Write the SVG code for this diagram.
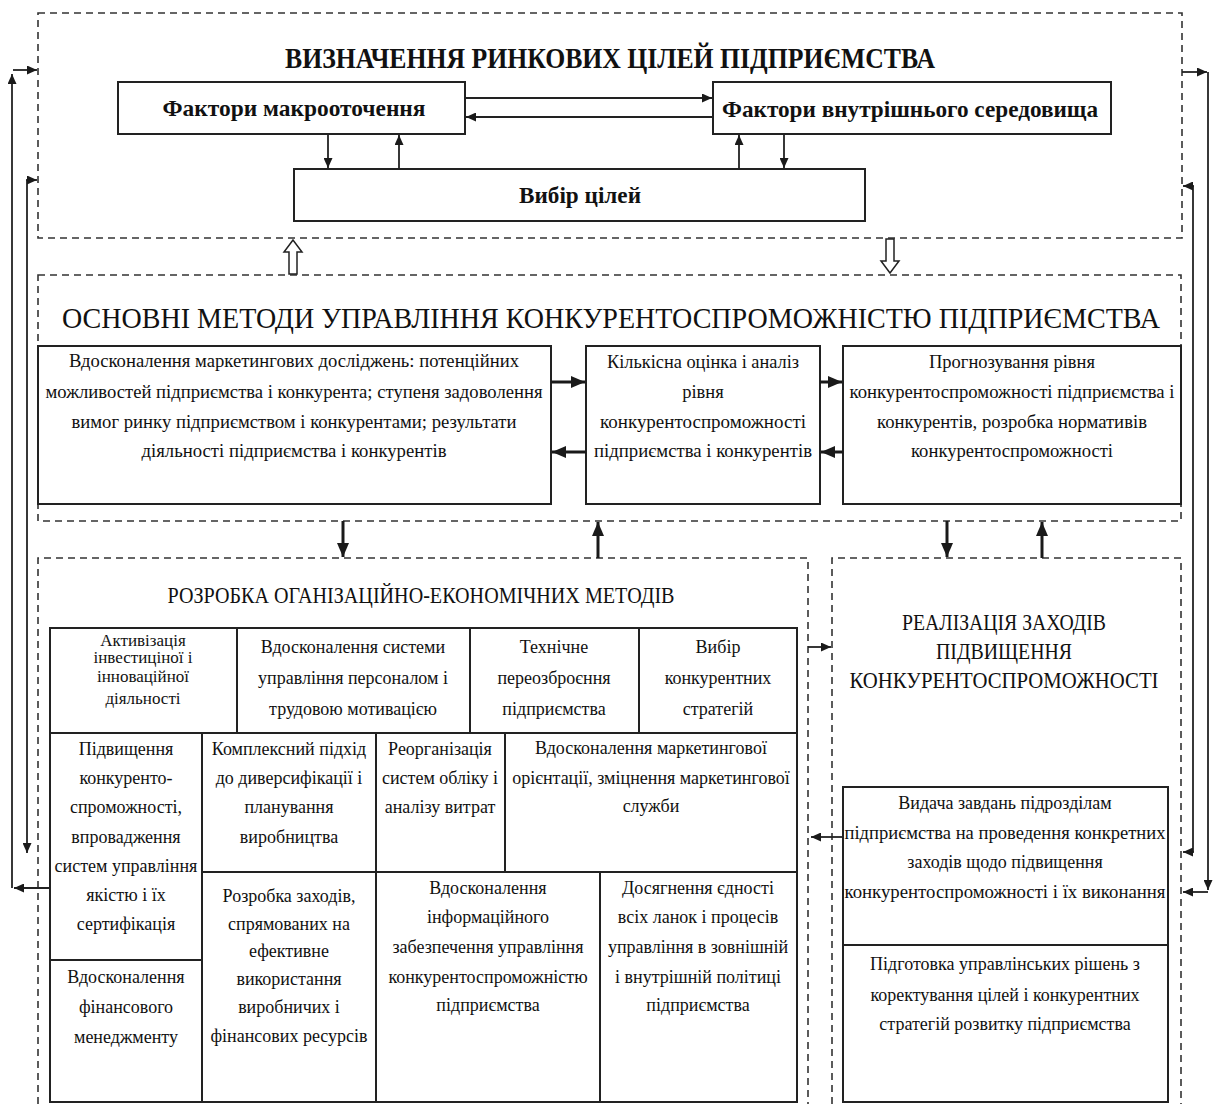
<svg xmlns="http://www.w3.org/2000/svg" width="1216" height="1104" viewBox="0 0 1216 1104">
<style>
.dash{fill:none;stroke:#333;stroke-width:1.6;stroke-dasharray:7 5}
.box{fill:#fff;stroke:#222;stroke-width:2}
.ln{fill:none;stroke:#222;stroke-width:1.8}
.lnb{fill:none;stroke:#1a1a1a;stroke-width:3}
.t{font-family:"Liberation Serif","Times New Roman",serif;fill:#111;text-anchor:middle}
.tb{font-weight:bold}
.s18{font-size:18px}
.s185{font-size:18.5px}
.s17{font-size:17px}
.hollow{fill:#fff;stroke:#222;stroke-width:1.5}
</style>
<defs>
<marker id="ah" viewBox="0 0 10 9" refX="10" refY="4.5" markerWidth="11" markerHeight="9" markerUnits="userSpaceOnUse" orient="auto"><path d="M0,0 L10,4.5 L0,9 z" fill="#1a1a1a"/></marker>
<marker id="ahb" viewBox="0 0 14 12" refX="14" refY="6" markerWidth="14" markerHeight="12" markerUnits="userSpaceOnUse" orient="auto"><path d="M0,0 L14,6 L0,12 z" fill="#1a1a1a"/></marker>
</defs>
<rect width="1216" height="1104" fill="#fff"/>

<!-- Top section -->
<g id="goals-section">
<rect class="dash" x="38" y="13" width="1144" height="225"/>
<text class="t tb" x="610" y="68" font-size="30" textLength="650" lengthAdjust="spacingAndGlyphs">ВИЗНАЧЕННЯ РИНКОВИХ ЦІЛЕЙ ПІДПРИЄМСТВА</text>
</g>
<g id="macro">
<rect class="box" x="118" y="82" width="347" height="52"/>
<text class="t tb" x="294" y="116" font-size="24" textLength="263" lengthAdjust="spacingAndGlyphs">Фактори макрооточення</text>
</g>
<g id="internal">
<rect class="box" x="713" y="82" width="398" height="52"/>
<text class="t tb" x="910" y="117" font-size="24" textLength="376" lengthAdjust="spacingAndGlyphs">Фактори внутрішнього середовища</text>
</g>
<g id="choice">
<rect class="box" x="294" y="169" width="571" height="52"/>
<text class="t tb" x="580" y="203" font-size="24" textLength="122" lengthAdjust="spacingAndGlyphs">Вибір цілей</text>
</g>

<!-- Middle section -->
<g id="methods-section">
<rect class="dash" x="38" y="275" width="1143" height="246"/>
<text class="t" x="611" y="328" font-size="29" textLength="1098" lengthAdjust="spacingAndGlyphs">ОСНОВНІ МЕТОДИ УПРАВЛІННЯ КОНКУРЕНТОСПРОМОЖНІСТЮ ПІДПРИЄМСТВА</text>
</g>
<g id="research">
<rect class="box" x="38" y="346" width="513" height="158"/>
<text class="t s185" x="294" y="367" textLength="450" lengthAdjust="spacingAndGlyphs">Вдосконалення маркетингових досліджень: потенційних</text>
<text class="t s185" x="294" y="398" textLength="497" lengthAdjust="spacingAndGlyphs">можливостей підприємства і конкурента; ступеня задоволення</text>
<text class="t s185" x="294" y="428" textLength="445" lengthAdjust="spacingAndGlyphs">вимог ринку підприємством і конкурентами; результати</text>
<text class="t s185" x="294" y="457" textLength="305" lengthAdjust="spacingAndGlyphs">діяльності підприємства і конкурентів</text>
</g>
<g id="assessment">
<rect class="box" x="586" y="346" width="234" height="158"/>
<text class="t s185" x="703" y="368" textLength="192" lengthAdjust="spacingAndGlyphs">Кількісна оцінка і аналіз</text>
<text class="t s185" x="703" y="398">рівня</text>
<text class="t s185" x="703" y="428" textLength="206" lengthAdjust="spacingAndGlyphs">конкурентоспроможності</text>
<text class="t s185" x="703" y="457" textLength="218" lengthAdjust="spacingAndGlyphs">підприємства і конкурентів</text>
</g>
<g id="forecast">
<rect class="box" x="843" y="346" width="338" height="158"/>
<text class="t s185" x="1012" y="368" textLength="166" lengthAdjust="spacingAndGlyphs">Прогнозування рівня</text>
<text class="t s185" x="1012" y="398" textLength="325" lengthAdjust="spacingAndGlyphs">конкурентоспроможності підприємства і</text>
<text class="t s185" x="1012" y="428" textLength="270" lengthAdjust="spacingAndGlyphs">конкурентів, розробка нормативів</text>
<text class="t s185" x="1012" y="457" textLength="202" lengthAdjust="spacingAndGlyphs">конкурентоспроможності</text>
</g>

<!-- Bottom-left section -->
<g id="org-methods-section">
<path class="dash" d="M38,1104 V558 H808 V1104"/>
<text class="t" x="421" y="603" font-size="24" textLength="507" lengthAdjust="spacingAndGlyphs">РОЗРОБКА ОГАНІЗАЦІЙНО-ЕКОНОМІЧНИХ МЕТОДІВ</text>
</g>
<g id="invest">
<rect class="box" x="50" y="628" width="187" height="105"/>
<text class="t s17" x="143" y="646">Активізація</text>
<text class="t s17" x="143" y="663">інвестиціної і</text>
<text class="t s17" x="143" y="682">інноваційної</text>
<text class="t s17" x="143" y="704">діяльності</text>
</g>
<g id="personnel">
<rect class="box" x="237" y="628" width="233" height="105"/>
<text class="t s18" x="353" y="653">Вдосконалення системи</text>
<text class="t s18" x="353" y="684">управління персоналом і</text>
<text class="t s18" x="353" y="715">трудовою мотивацією</text>
</g>
<g id="reequip">
<rect class="box" x="470" y="628" width="169" height="105"/>
<text class="t s18" x="554" y="653">Технічне</text>
<text class="t s18" x="554" y="684">переозброєння</text>
<text class="t s18" x="554" y="715">підприємства</text>
</g>
<g id="strategy">
<rect class="box" x="639" y="628" width="158" height="105"/>
<text class="t s18" x="718" y="653">Вибір</text>
<text class="t s18" x="718" y="684">конкурентних</text>
<text class="t s18" x="718" y="715">стратегій</text>
</g>
<g id="quality">
<rect class="box" x="50" y="733" width="152" height="227"/>
<text class="t s18" x="126" y="755">Підвищення</text>
<text class="t s18" x="126" y="784">конкуренто-</text>
<text class="t s18" x="126" y="813">спроможності,</text>
<text class="t s18" x="126" y="843">впровадження</text>
<text class="t s18" x="126" y="872">систем управління</text>
<text class="t s18" x="126" y="901">якістю і їх</text>
<text class="t s18" x="126" y="930">сертифікація</text>
</g>
<g id="diversification">
<rect class="box" x="202" y="733" width="174" height="139"/>
<text class="t s18" x="289" y="755">Комплексний підхід</text>
<text class="t s18" x="289" y="784">до диверсифікації і</text>
<text class="t s18" x="289" y="813">планування</text>
<text class="t s18" x="289" y="843">виробництва</text>
</g>
<g id="accounting">
<rect class="box" x="376" y="733" width="129" height="139"/>
<text class="t s18" x="440" y="755">Реорганізація</text>
<text class="t s18" x="440" y="784">систем обліку і</text>
<text class="t s18" x="440" y="813">аналізу витрат</text>
</g>
<g id="marketing">
<rect class="box" x="505" y="733" width="292" height="139"/>
<text class="t s18" x="651" y="754">Вдосконалення маркетингової</text>
<text class="t s18" x="651" y="784">орієнтації, зміцнення маркетингової</text>
<text class="t s18" x="651" y="812">служби</text>
</g>
<g id="finance">
<rect class="box" x="50" y="960" width="152" height="142"/>
<text class="t s18" x="126" y="983">Вдосконалення</text>
<text class="t s18" x="126" y="1013">фінансового</text>
<text class="t s18" x="126" y="1043">менеджменту</text>
</g>
<g id="resources">
<rect class="box" x="202" y="872" width="174" height="230"/>
<text class="t s18" x="289" y="902">Розробка заходів,</text>
<text class="t s18" x="289" y="930">спрямованих на</text>
<text class="t s18" x="289" y="957">ефективне</text>
<text class="t s18" x="289" y="985">використання</text>
<text class="t s18" x="289" y="1013">виробничих і</text>
<text class="t s18" x="289" y="1042">фінансових ресурсів</text>
</g>
<g id="information">
<rect class="box" x="376" y="872" width="224" height="230"/>
<text class="t s18" x="488" y="894">Вдосконалення</text>
<text class="t s18" x="488" y="923">інформаційного</text>
<text class="t s18" x="488" y="953">забезпечення управління</text>
<text class="t s18" x="488" y="983">конкурентоспроможністю</text>
<text class="t s18" x="488" y="1011">підприємства</text>
</g>
<g id="unity">
<rect class="box" x="600" y="872" width="197" height="230"/>
<text class="t s18" x="698" y="894">Досягнення єдності</text>
<text class="t s18" x="698" y="923">всіх ланок і процесів</text>
<text class="t s18" x="698" y="953">управління в зовнішній</text>
<text class="t s18" x="698" y="983">і внутрішній політиці</text>
<text class="t s18" x="698" y="1011">підприємства</text>
</g>

<!-- Bottom-right section -->
<g id="implementation-section">
<path class="dash" d="M832,1104 V558 H1181 V1104"/>
<text class="t" x="1004" y="630" font-size="24" textLength="204" lengthAdjust="spacingAndGlyphs">РЕАЛІЗАЦІЯ ЗАХОДІВ</text>
<text class="t" x="1004" y="659" font-size="24" textLength="136" lengthAdjust="spacingAndGlyphs">ПІДВИЩЕННЯ</text>
<text class="t" x="1004" y="688" font-size="24" textLength="309" lengthAdjust="spacingAndGlyphs">КОНКУРЕНТОСПРОМОЖНОСТІ</text>
</g>
<g id="tasks">
<rect class="box" x="843" y="787" width="325" height="158"/>
<text class="t s18" x="1005" y="809">Видача завдань підрозділам</text>
<text class="t s18" x="1005" y="839" textLength="321" lengthAdjust="spacingAndGlyphs">підприємства на проведення конкретних</text>
<text class="t s18" x="1005" y="868">заходів щодо підвищення</text>
<text class="t s18" x="1005" y="898" textLength="321" lengthAdjust="spacingAndGlyphs">конкурентоспроможності і їх виконання</text>
</g>
<g id="decisions">
<rect class="box" x="843" y="945" width="325" height="157"/>
<text class="t s18" x="1005" y="970">Підготовка управлінських рішень з</text>
<text class="t s18" x="1005" y="1001">коректування цілей і конкурентних</text>
<text class="t s18" x="1005" y="1030">стратегій розвитку підприємства</text>
</g>

<!-- Connectors -->
<g id="connectors">
<path class="ln" d="M465,98 H712" marker-end="url(#ah)"/>
<path class="ln" d="M713,117 H466" marker-end="url(#ah)"/>
<path class="ln" d="M328,134 V168" marker-end="url(#ah)"/>
<path class="ln" d="M399,169 V135" marker-end="url(#ah)"/>
<path class="ln" d="M739,169 V135" marker-end="url(#ah)"/>
<path class="ln" d="M784,134 V168" marker-end="url(#ah)"/>
<polygon class="hollow" points="293,240 284,252 289,252 289,274 297,274 297,252 302,252"/>
<polygon class="hollow" points="890,273 881,261 886,261 886,239 894,239 894,261 899,261"/>
<path class="lnb" d="M551,382 H585" marker-end="url(#ahb)"/>
<path class="lnb" d="M586,452 H552" marker-end="url(#ahb)"/>
<path class="lnb" d="M820,382 H842" marker-end="url(#ahb)"/>
<path class="lnb" d="M843,452 H821" marker-end="url(#ahb)"/>
<path class="lnb" d="M343,521 V557" marker-end="url(#ahb)"/>
<path class="lnb" d="M598,558 V522" marker-end="url(#ahb)"/>
<path class="lnb" d="M947,521 V557" marker-end="url(#ahb)"/>
<path class="lnb" d="M1042,558 V522" marker-end="url(#ahb)"/>
<path class="ln" d="M808,647 H831" marker-end="url(#ah)"/>
<path class="ln" d="M843,837 H811" marker-end="url(#ah)"/>
<path class="ln" d="M50,888 H14" marker-end="url(#ah)"/>
<path class="ln" d="M12,888 V74" marker-end="url(#ah)"/>
<path class="ln" d="M13,70 H37" marker-end="url(#ah)"/>
<path class="ln" d="M27,180 V853" marker-end="url(#ah)"/>
<path class="ln" d="M26,180 H37" marker-end="url(#ah)"/>
<path class="ln" d="M1182,72 H1207" marker-end="url(#ah)"/>
<path class="ln" d="M1208,72 V890" marker-end="url(#ah)"/>
<path class="ln" d="M1208,892 H1183" marker-end="url(#ah)"/>
<path class="ln" d="M1193,186 V852"/>
<path class="ln" d="M1194,186 H1183" marker-end="url(#ah)"/>
<path class="ln" d="M1194,852 H1183" marker-end="url(#ah)"/>
</g>
</svg>
